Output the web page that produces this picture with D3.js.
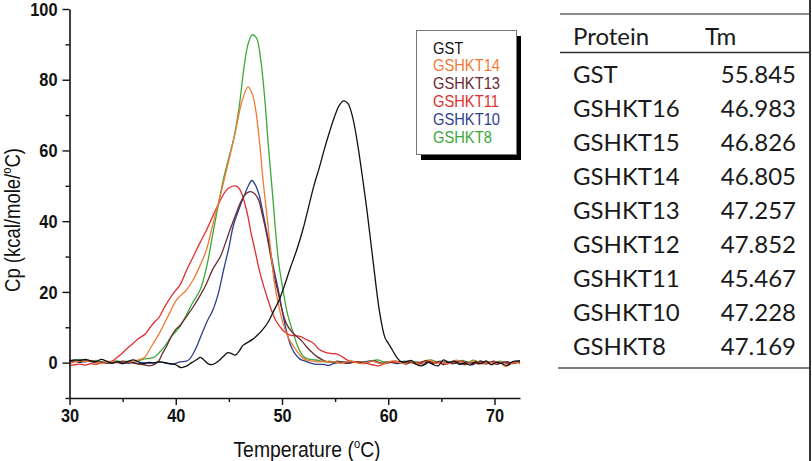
<!DOCTYPE html>
<html><head><meta charset="utf-8">
<script src="https://cdn.jsdelivr.net/npm/d3@7"></script>
<style>
html,body{margin:0;padding:0;background:#fff;}
svg{display:block;}
</style></head>
<body>
<svg id="chart" width="812" height="461"></svg>
<script>
// ---------------- DATA ----------------
const xTicks = [30, 40, 50, 60, 70];
const xMinorTicks = [35, 45, 55, 65];
const yTicks = [0, 20, 40, 60, 80, 100];
const yMinorTicks = [-10, 10, 30, 50, 70, 90];

const seriesNames = ["GST", "GSHKT14", "GSHKT13", "GSHKT11", "GSHKT10", "GSHKT8"];
const seriesColors = ["#111111", "#f07a35", "#6b2a30", "#e0302e", "#2d3f8f", "#3aa83a"];

const gst = [[30,0.5],[30.5,0.8],[31,0.6],[31.5,0.9],[32,0.5],[32.5,0.3],[33,0.9],[33.5,0.4],[34,-0.2],[34.5,0.2],[35,-0.3],[35.5,0.3],[36,0.8],[36.5,0.2],[37,-0.3],[37.5,0.1],[38,-0.1],[38.5,0.2],[39,0],[39.5,-0.3],[40,-0.6],[40.5,-1.4],[41,-1.0],[41.5,0],[42,0.9],[42.3,1.5],[42.7,0.6],[43.1,-0.4],[43.5,-0.5],[44,0.4],[44.5,1.8],[44.9,2.8],[45.3,2.5],[45.6,2.1],[46,3.4],[46.3,4.8],[46.7,5.6],[47.2,6.5],[47.7,7.8],[48.2,9.4],[48.7,11.5],[49.2,14.5],[49.7,17.5],[50.2,21.5],[50.75,26.5],[51.4,32],[52,38],[52.5,44],[53,50],[53.5,55],[54,60.5],[54.5,65.5],[55,70],[55.4,72.8],[55.8,74],[56.2,73.3],[56.6,70],[57,64],[57.5,54],[58,43],[58.6,28],[59.2,14],[59.7,7],[60,5.5],[60.4,3.5],[60.8,1.5],[61.2,0.3],[61.7,0.2],[62.2,0.6],[62.7,-0.6],[63.2,-0.9],[63.7,0.2],[64.2,-0.5],[64.7,-0.9],[65.2,0.8],[65.7,0],[66.2,0.4],[66.7,-0.5],[67.2,-0.1],[67.7,-0.7],[68.2,0.2],[68.7,-0.3],[69.2,0.5],[69.7,-0.6],[70.2,0.1],[70.7,-0.3],[71.2,-0.8],[71.7,0.3],[72.4,0.5]];

const gshkt14 = [[30,-0.3],[30.5,0.2],[31,0.5],[31.5,0.3],[32,0.6],[32.5,0.2],[33,-0.2],[33.5,0],[34,0.3],[34.5,0],[35,-0.2],[35.5,0.1],[36,0.4],[36.5,0.8],[37.1,1.6],[37.6,4],[38,6],[38.4,8],[39,11.5],[39.5,14.5],[40,17.4],[40.4,18.8],[41,20.5],[41.65,23.5],[42.3,27.5],[42.9,32],[43.4,38],[43.85,43.2],[44.5,51],[45.1,58.5],[45.6,65],[46.2,73.5],[46.8,78],[47.2,76],[47.5,72],[47.9,62],[48.2,52],[48.6,41],[49,30],[49.3,22.4],[49.7,16],[50.1,11.1],[50.6,7],[51.1,4.5],[51.6,2.5],[52,1.2],[52.5,0.6],[53,0.4],[53.5,0.2],[54,0.5],[54.5,0.1],[55,0.3],[55.5,-0.2],[56,0.2],[56.5,0.4],[57,0],[57.5,-0.3],[58,0.1],[58.5,0.4],[59,0],[59.5,-0.4],[60,0.2],[60.5,0.5],[61,0.1],[61.5,-0.2],[62,0.4],[62.5,0],[63,-0.5],[63.5,0.2],[64,0.6],[64.5,-0.2],[65,0.1],[65.5,-0.4],[66,0.3],[66.5,0.7],[67,0],[67.5,-0.3],[68,0.5],[68.5,0.1],[69,-0.4],[69.5,0.2],[70,-0.3],[70.5,0.3],[71,-1.1],[71.5,-0.4],[72,0.1],[72.4,-0.3]];

const gshkt13 = [[30,0.6],[30.5,0.4],[31,0.2],[31.5,0.5],[32,0.3],[32.5,0],[33,0.2],[33.5,-0.1],[34,0.3],[34.5,0],[35,0.4],[35.5,0.2],[36,-0.1],[36.5,-0.4],[37,-0.6],[37.5,-0.9],[38,-0.5],[38.4,0.5],[38.7,2.3],[39.2,5],[39.6,7.5],[40,9.4],[40.4,10.5],[41,13],[41.65,15.8],[42.3,19],[42.9,22.4],[43.5,26.5],[44.2,30],[44.7,34],[45.1,37.5],[45.6,41.5],[46.05,45],[46.4,47],[46.7,48],[47.15,48.3],[47.5,47.5],[47.8,46],[48.1,42.5],[48.4,38.5],[48.7,34],[49,29],[49.3,24],[49.65,19.6],[50,15],[50.4,11.1],[50.9,8.8],[51.4,7.4],[51.9,6],[52.3,4.5],[52.8,3],[53.3,1.7],[53.8,0.8],[54.2,0.3],[54.7,0.1],[55.2,0.4],[55.7,0],[56.2,-0.2],[56.7,0.3],[57.2,0.1],[57.7,-0.3],[58.2,0.2],[58.7,0.5],[59.2,0],[59.7,-0.3],[60.2,0.1],[60.7,0.4],[61.2,0],[61.7,-0.4],[62.2,0.2],[62.7,-0.5],[63.2,0.1],[63.7,0.6],[64.2,-0.2],[64.7,0.3],[65.2,-0.6],[65.7,0.2],[66.2,-0.3],[66.7,0.4],[67.2,-0.6],[67.7,0.1],[68.2,-0.2],[68.7,0.5],[69.2,-0.4],[69.7,0.2],[70.2,-0.5],[70.7,0],[71.2,0.3],[71.7,-0.3],[72.4,0.2]];

const gshkt11 = [[30,-0.8],[30.5,-0.6],[31,-0.4],[31.5,-0.7],[32,-0.3],[32.5,-0.5],[33,0],[33.5,0.2],[34,0.4],[34.5,1.5],[35,2.8],[35.5,4.2],[36,5.5],[36.5,6.8],[37.1,8],[37.6,10],[38,11.5],[38.4,12.7],[39,16],[39.7,19.3],[40.4,22],[41,26],[41.65,30],[42.3,34],[42.9,37.5],[43.5,41.5],[44.2,46],[44.7,48.5],[45.1,49.6],[45.6,50],[45.9,49.5],[46.2,47.9],[46.5,45],[46.8,41.3],[47.1,36.5],[47.45,31.9],[47.8,27],[48.2,22.4],[48.6,18.5],[49,14.9],[49.4,12],[49.8,10.2],[50.2,8.8],[50.75,7.8],[51.2,7.6],[51.7,7.4],[52.3,6.5],[52.95,5.5],[53.4,4],[53.9,3.1],[54.5,2.6],[55.1,2.5],[55.6,1.8],[56,1],[56.4,0.3],[56.8,0],[57.2,0.3],[57.6,0],[58,-0.2],[58.5,-0.6],[59.1,-0.9],[59.6,-0.3],[60,0.2],[60.5,0],[61,0.3],[61.5,-0.1],[62,0.2],[62.5,-0.3],[63,0.1],[63.5,0.4],[64,-0.2],[64.5,0.2],[65,-0.1],[65.5,0.3],[66,-0.3],[66.5,0.1],[67,0.4],[67.5,-0.2],[68,0.1],[68.5,-0.4],[69,0.2],[69.5,0],[70,0.3],[70.5,-0.2],[71,0.1],[71.5,-0.3],[72,0.2],[72.4,0]];

const gshkt10 = [[30,0.2],[30.5,0.4],[31,0.1],[31.5,0.3],[32,0.5],[32.5,0.2],[33,0],[33.5,-0.2],[34,0.1],[34.5,0.3],[35,0],[35.5,-0.2],[36,0.1],[36.5,-0.3],[37,0],[37.5,-0.2],[38,0],[38.5,0.2],[39,-0.1],[39.5,-0.4],[40,-0.2],[40.4,0.2],[41,0.4],[41.3,1],[41.65,2.6],[42.1,5.5],[42.6,9.2],[43,12],[43.5,14.9],[44,19.5],[44.5,26.2],[45,32.5],[45.4,38.5],[45.9,43],[46.4,46.9],[46.8,49.8],[47.15,51.5],[47.45,50.5],[47.8,47.9],[48.1,44],[48.4,39.4],[48.7,35],[49,30],[49.3,25.5],[49.65,20.6],[50,15],[50.4,9.2],[50.8,5],[51.2,2.6],[51.7,1],[52.3,0.3],[52.8,-0.2],[53.3,-0.5],[53.9,-0.5],[54.4,-0.8],[54.9,-0.2],[55.4,0],[55.9,0.3],[56.4,-0.1],[56.9,0.2],[57.4,-0.2],[57.9,0.3],[58.4,0.5],[58.9,0.1],[59.4,-0.3],[59.9,0.2],[60.4,0],[60.9,-0.3],[61.4,0.2],[61.9,0.4],[62.4,-0.2],[62.9,0.1],[63.4,-0.6],[63.9,0.3],[64.4,-0.2],[64.9,0.4],[65.4,-0.5],[65.9,0.1],[66.4,0.3],[66.9,-0.4],[67.4,0.2],[67.9,-0.6],[68.4,0.1],[68.9,0.3],[69.4,-0.3],[69.9,0.4],[70.4,-0.2],[70.9,0.1],[71.4,-0.4],[71.9,0.3],[72.4,0.4]];

const gshkt8 = [[30,0.3],[30.5,0.6],[31,0.9],[31.5,0.7],[32,0.4],[32.5,0.6],[33,0.2],[33.5,0],[34,0.3],[34.5,0.5],[35,0.2],[35.5,0.4],[36,0],[36.5,0.5],[37,1.0],[37.5,1.2],[38,1.6],[38.5,3],[39,4.8],[39.5,7],[40,8.8],[40.4,10.2],[41,13.5],[41.6,17],[42.3,20.6],[42.9,27],[43.5,36.6],[44,44.5],[44.5,52],[45,58],[45.5,64],[46,73],[46.4,83],[46.8,90],[47.2,92.7],[47.6,91.8],[48,85.6],[48.4,73.8],[48.7,62],[49.1,48],[49.4,37],[49.7,28],[50.1,20.5],[50.5,14],[51.1,8],[51.5,4.5],[52,1.8],[52.5,1.0],[53,0.8],[53.5,0.6],[54,0.2],[54.5,0.4],[55,0.1],[55.5,0.3],[56,0.2],[56.5,0.5],[57,0.1],[57.5,0.3],[58,0.2],[58.5,0.6],[59,0.8],[59.5,0.3],[60,0.2],[60.5,0.3],[61,0.1],[61.5,0.4],[62,0],[62.5,0.3],[63,0],[63.5,0.5],[64,0.8],[64.5,0.2],[65,0],[65.5,0.4],[66,-0.3],[66.5,0.3],[67,0.6],[67.5,0.1],[68,0.7],[68.5,0.2],[69,0],[69.5,0.3],[70,-0.2],[70.5,0.4],[71,0],[71.5,-0.2],[72,0.3],[72.4,0]];

const tableProteins = ["GST", "GSHKT16", "GSHKT15", "GSHKT14", "GSHKT13", "GSHKT12", "GSHKT11", "GSHKT10", "GSHKT8"];
const tableTm = ["55.845", "46.983", "46.826", "46.805", "47.257", "47.852", "45.467", "47.228", "47.169"];

// ---------------- DRAW ----------------
const svg = d3.select("#chart");
const AX = "'Liberation Sans', Arial, sans-serif";

const x = d3.scaleLinear().domain([30, 72.4]).range([69.5, 520]);
const y = d3.scaleLinear().domain([-10, 100]).range([398, 9]);

function condense(sel, f) {
  sel.each(function () {
    const w = this.getComputedTextLength();
    d3.select(this).attr("textLength", w * f).attr("lengthAdjust", "spacingAndGlyphs");
  });
}

// curves
const line = d3.line().x(d => x(d[0])).y(d => y(d[1])).curve(d3.curveCatmullRom.alpha(0.5));
const allSeries = [gst, gshkt14, gshkt13, gshkt11, gshkt10, gshkt8];
const drawOrder = [5, 4, 3, 2, 1, 0];
drawOrder.forEach(i => {
  svg.append("path").datum(allSeries[i])
    .attr("d", line).attr("fill", "none")
    .attr("stroke", seriesColors[i]).attr("stroke-width", 1.3)
    .attr("stroke-linejoin", "round");
});

// axes
const gx = svg.append("g").attr("transform", `translate(0,${y(-10)})`)
  .call(d3.axisBottom(x).tickValues(xTicks).tickSize(7).tickSizeOuter(0).tickPadding(4).tickFormat(d3.format("d")));
const gxm = svg.append("g").attr("transform", `translate(0,${y(-10)})`)
  .call(d3.axisBottom(x).tickValues(xMinorTicks).tickSize(4).tickSizeOuter(0).tickFormat(""));
const gy = svg.append("g").attr("transform", `translate(${x(30)},0)`)
  .call(d3.axisLeft(y).tickValues(yTicks).tickSize(7).tickSizeOuter(0).tickPadding(5).tickFormat(d3.format("d")));
const gym = svg.append("g").attr("transform", `translate(${x(30)},0)`)
  .call(d3.axisLeft(y).tickValues(yMinorTicks).tickSize(4).tickSizeOuter(0).tickFormat(""));

[gx, gxm, gy, gym].forEach(g => {
  g.select(".domain").attr("stroke", "#111").attr("stroke-width", 1.6);
  g.selectAll(".tick line").attr("stroke", "#111").attr("stroke-width", 1.4);
});
gxm.select(".domain").remove();
gym.select(".domain").remove();

[gx, gy].forEach(g => {
  g.selectAll(".tick text")
    .attr("font-family", AX).attr("font-size", 19).attr("font-weight", "bold").attr("fill", "#111");
});
gx.selectAll(".tick text").attr("dy", "0.71em");
condense(gx.selectAll(".tick text"), 0.86);
condense(gy.selectAll(".tick text"), 0.86);

// axis titles
const xt = svg.append("text").attr("x", 307).attr("y", 457)
  .attr("text-anchor", "middle").attr("font-family", AX).attr("font-size", 22.5).attr("fill", "#111");
xt.append("tspan").text("Temperature (");
xt.append("tspan").attr("font-size", 13).attr("dy", -9).text("o");
xt.append("tspan").attr("dy", 9).text("C)");
condense(xt, 0.86);

const yt = svg.append("text").attr("transform", "translate(20,220) rotate(-90)")
  .attr("text-anchor", "middle").attr("font-family", AX).attr("font-size", 21.5).attr("fill", "#111");
yt.append("tspan").text("Cp (kcal/mole/");
yt.append("tspan").attr("font-size", 13).attr("dy", -9).text("o");
yt.append("tspan").attr("dy", 9).text("C)");
condense(yt, 0.86);

// legend
const lg = svg.append("g");
lg.append("rect").attr("x", 421).attr("y", 36).attr("width", 100).attr("height", 124).attr("fill", "#000");
lg.append("rect").attr("x", 416.5).attr("y", 30.5).attr("width", 100).attr("height", 124)
  .attr("fill", "#fff").attr("stroke", "#777").attr("stroke-width", 1);
seriesNames.forEach((n, i) => {
  const t = lg.append("text").attr("x", 433).attr("y", 53.5 + i * 17.9)
    .attr("font-family", AX).attr("font-size", 17).attr("fill", seriesColors[i]).text(n);
  condense(t, 0.865);
});

// table
const TF = "Lato, 'Open Sans', sans-serif";
const tb = svg.append("g");
tb.append("line").attr("x1", 560).attr("x2", 810).attr("y1", 14).attr("y2", 14).attr("stroke", "#666").attr("stroke-width", 1.5);
tb.append("line").attr("x1", 560).attr("x2", 810).attr("y1", 52.5).attr("y2", 52.5).attr("stroke", "#333").attr("stroke-width", 1.5);
tb.append("line").attr("x1", 558).attr("x2", 810).attr("y1", 368).attr("y2", 368).attr("stroke", "#555").attr("stroke-width", 1.5);
tb.append("line").attr("x1", 810).attr("x2", 810).attr("y1", 0).attr("y2", 461).attr("stroke", "#333").attr("stroke-width", 2);
tb.append("text").attr("x", 573).attr("y", 45).attr("font-family", TF).attr("font-size", 24).attr("fill", "#1a1a1a").text("Protein");
tb.append("text").attr("x", 705).attr("y", 45).attr("font-family", TF).attr("font-size", 24).attr("fill", "#1a1a1a").text("Tm");
tableProteins.forEach((p, i) => {
  const yy = 83 + i * 34;
  tb.append("text").attr("x", 573).attr("y", yy).attr("font-family", TF).attr("font-size", 24).attr("fill", "#1a1a1a").text(p);
  tb.append("text").attr("x", 796).attr("y", yy).attr("text-anchor", "end").attr("font-family", TF).attr("font-size", 24).attr("fill", "#1a1a1a").text(tableTm[i]);
});
</script>
</body></html>
